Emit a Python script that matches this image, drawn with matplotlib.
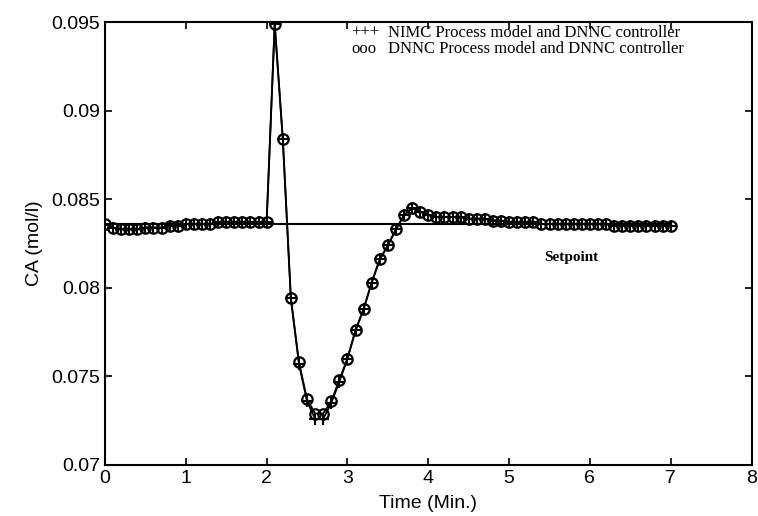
import numpy as np
import matplotlib
matplotlib.use('Agg')
import matplotlib.pyplot as plt

# =============================================================================
# Data (sample time 0.1 min, 0 .. 7 min)
# =============================================================================
time = np.round(np.arange(0, 71) * 0.1, 1)

ca_dnnc = [0.0836, 0.0834, 0.0833, 0.0833, 0.0833, 0.0834, 0.0834, 0.0834, 0.0835, 0.0835,
           0.0836, 0.0836, 0.0836, 0.0836, 0.0837, 0.0837, 0.0837, 0.0837, 0.0837, 0.0837,
           0.0837, 0.0949, 0.0884, 0.0794, 0.0758, 0.0737, 0.0729, 0.0729, 0.0736, 0.0748,
           0.0760, 0.0776, 0.0788, 0.0803, 0.0816, 0.0824, 0.0833, 0.0841, 0.0845, 0.0843,
           0.0841, 0.0840, 0.0840, 0.0840, 0.0840, 0.0839, 0.0839, 0.0839, 0.0838, 0.0838,
           0.0837, 0.0837, 0.0837, 0.0837, 0.0836, 0.0836, 0.0836, 0.0836, 0.0836, 0.0836,
           0.0836, 0.0836, 0.0836, 0.0835, 0.0835, 0.0835, 0.0835, 0.0835, 0.0835, 0.0835,
           0.0835]

ca_nimc = [0.0836, 0.0834, 0.0833, 0.0833, 0.0833, 0.0834, 0.0834, 0.0834, 0.0835, 0.0835,
           0.0836, 0.0836, 0.0836, 0.0836, 0.0837, 0.0837, 0.0837, 0.0837, 0.0837, 0.0837,
           0.0837, 0.0949, 0.0884, 0.0794, 0.0757, 0.0736, 0.0726, 0.0726, 0.0735, 0.0747,
           0.0760, 0.0776, 0.0788, 0.0803, 0.0816, 0.0824, 0.0833, 0.0841, 0.0845, 0.0843,
           0.0841, 0.0840, 0.0840, 0.0840, 0.0840, 0.0839, 0.0839, 0.0839, 0.0838, 0.0838,
           0.0837, 0.0837, 0.0837, 0.0837, 0.0836, 0.0836, 0.0836, 0.0836, 0.0836, 0.0836,
           0.0836, 0.0836, 0.0836, 0.0835, 0.0835, 0.0835, 0.0835, 0.0835, 0.0835, 0.0835,
           0.0835]

setpoint = 0.0836
xticks = [0, 1, 2, 3, 4, 5, 6, 7, 8]
yticks = [0.07, 0.075, 0.08, 0.085, 0.09, 0.095]
ytick_labels = ['0.07', '0.075', '0.08', '0.085', '0.09', '0.095']

# =============================================================================
# Plot
# =============================================================================
plt.rcParams['font.family'] = 'Liberation Sans'

fig = plt.figure(figsize=(7.58, 5.16), dpi=100)
ax = fig.add_axes([0.1385, 0.099, 0.853, 0.858])

ax.plot([time[0], time[-1]], [setpoint, setpoint], color='black', lw=1.5)
ax.plot(time, ca_nimc, color='black', lw=1.3, marker='+', ms=8, mew=1.5)
ax.plot(time, ca_dnnc, color='black', lw=1.3, marker='o', ms=7.5, mew=1.6,
        mfc='none', ls='-')

ax.set_xlim(0, 8)
ax.set_ylim(0.07, 0.095)
ax.set_xticks(xticks)
ax.set_yticks(yticks)
ax.set_yticklabels(ytick_labels)
ax.tick_params(direction='in', top=True, right=True, labelsize=14, length=5, width=1.2)
for s in ax.spines.values():
    s.set_linewidth(1.5)

ax.set_xlabel('Time (Min.)', fontsize=14, labelpad=6)
ax.set_ylabel('CA (mol/l)', fontsize=14, labelpad=6)

# legend written as plain text, like the original
ax.text(3.05, 0.0944, '+++', family='Liberation Serif', fontsize=12, va='center')
ax.text(3.5, 0.0944, 'NIMC Process model and DNNC controller',
        family='Liberation Serif', fontsize=12, va='center')
ax.text(3.05, 0.0935, 'ooo', family='Liberation Serif', fontsize=12, va='center')
ax.text(3.5, 0.0935, 'DNNC Process model and DNNC controller',
        family='Liberation Serif', fontsize=12, va='center')
ax.text(5.44, 0.0817, 'Setpoint', family='Liberation Serif', fontsize=11,
        fontweight='bold', va='center')

fig.savefig('out.png', dpi=100)
